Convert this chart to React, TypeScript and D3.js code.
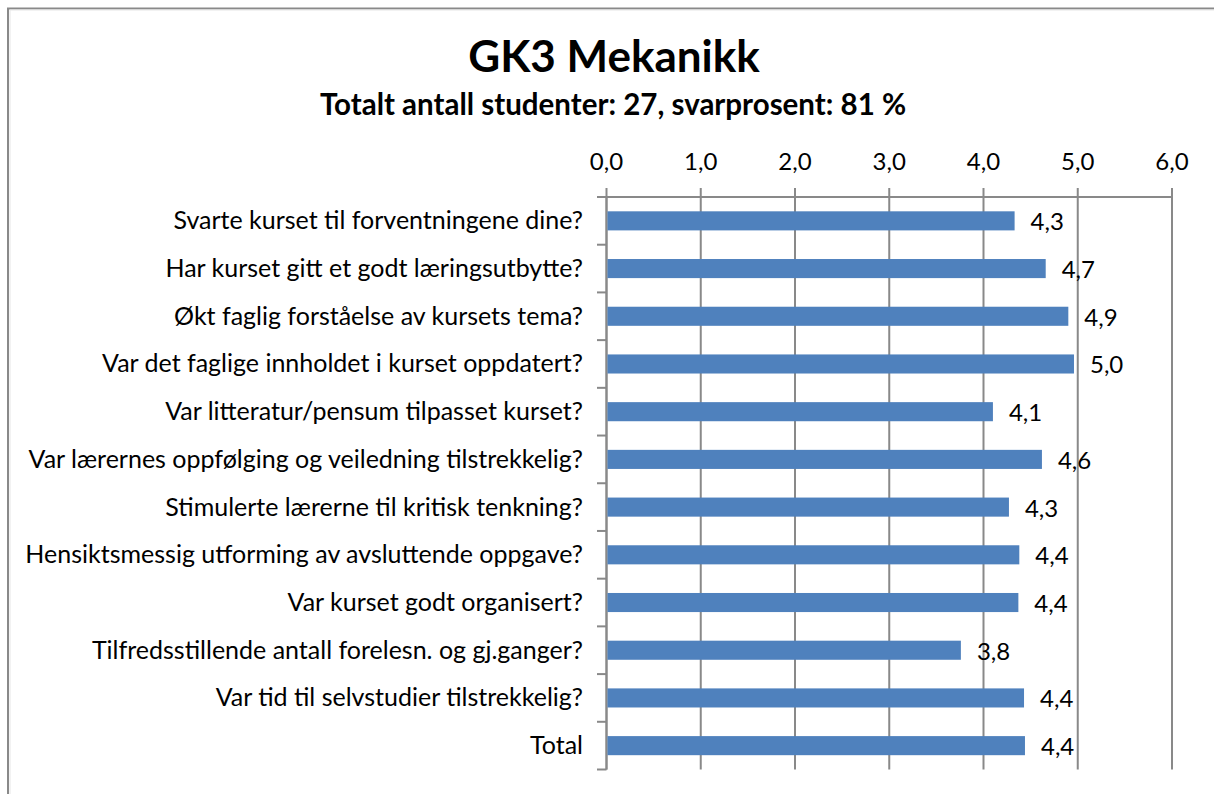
import React from "react";
import * as d3 from "d3";

const categories = [
  "Svarte kurset til forventningene dine?",
  "Har kurset gitt et godt læringsutbytte?",
  "Økt faglig forståelse av kursets tema?",
  "Var det faglige innholdet i kurset oppdatert?",
  "Var litteratur/pensum tilpasset kurset?",
  "Var lærernes oppfølging og veiledning tilstrekkelig?",
  "Stimulerte lærerne til kritisk tenkning?",
  "Hensiktsmessig utforming av avsluttende oppgave?",
  "Var kurset godt organisert?",
  "Tilfredsstillende antall forelesn. og gj.ganger?",
  "Var tid til selvstudier tilstrekkelig?",
  "Total",
];
const values = [4.33, 4.66, 4.9, 4.96, 4.1, 4.62, 4.27, 4.38, 4.37, 3.76, 4.43, 4.44];
const xTicks = [0, 1, 2, 3, 4, 5, 6];
const title = "GK3 Mekanikk";
const subtitle = "Totalt antall studenter: 27, svarprosent: 81 %";

const W = 1214;
const H = 794;
const FONT = "Lato, 'Open Sans', sans-serif";
const AXIS = "#898989";
const BAR = "#4f81bd";

const fmt = (v: number) => v.toFixed(1).replace(".", ",");

export default function App() {
  const x = d3.scaleLinear().domain([0, 6]).range([606.5, 1172]);
  const y = d3
    .scaleBand<string>()
    .domain(categories)
    .range([197, 769.5])
    .paddingInner(0.6)
    .paddingOuter(0.3);
  const step = y.step();
  const top = 197;
  const bottom = 769.5;
  const boundaries = d3.range(categories.length + 1).map((i) => top + i * step);

  return (
    <svg
      width={W}
      height={H}
      style={{ position: "absolute", left: 0, top: 0, background: "#fff" }}
      fontFamily={FONT}
    >
      <rect x={0} y={0} width={W} height={H} fill="#fff" />
      {/* chart frame (cropped on right/bottom) */}
      <rect x={8} y={8.5} width={W + 20} height={H + 20} fill="none" stroke={AXIS} strokeWidth={2} />
      <line x1={10} y1={10} x2={W} y2={10} stroke="#e6e6e6" strokeWidth={1} />
      <line x1={10} y1={10} x2={10} y2={H} stroke="#e6e6e6" strokeWidth={1} />

      <text x={614} y={72} textAnchor="middle" fontSize={44} fontWeight={700} fill="#000">
        {title}
      </text>
      <text x={613} y={115} textAnchor="middle" fontSize={29.5} fontWeight={700} fill="#000">
        {subtitle}
      </text>

      {/* gridlines + top ticks */}
      {xTicks.map((t) => (
        <g key={t}>
          <line x1={x(t)} x2={x(t)} y1={188} y2={bottom} stroke={AXIS} strokeWidth={2} />
          <text x={x(t)} y={170} textAnchor="middle" fontSize={24} fill="#000">
            {fmt(t)}
          </text>
        </g>
      ))}
      {/* top axis line */}
      <line x1={x(0)} x2={x(6)} y1={top} y2={top} stroke={AXIS} strokeWidth={2} />
      {/* left axis + ticks */}
      <line x1={x(0)} x2={x(0)} y1={top} y2={bottom} stroke={AXIS} strokeWidth={2} />
      {boundaries.map((b, i) => (
        <line key={i} x1={597} x2={x(0)} y1={b} y2={b} stroke={AXIS} strokeWidth={2} />
      ))}

      {/* bars */}
      {categories.map((c, i) => (
        <rect
          key={c}
          x={x(0) + 1}
          y={y(c)!}
          width={x(values[i]) - x(0) - 1}
          height={y.bandwidth()}
          fill={BAR}
        />
      ))}
      {/* data labels */}
      {categories.map((c, i) => (
        <text
          key={c + "l"}
          x={x(values[i]) + 16}
          y={y(c)! + y.bandwidth() / 2 + 9.5}
          fontSize={24}
          fill="#000"
        >
          {fmt(values[i])}
        </text>
      ))}
      {/* category labels */}
      {categories.map((c) => (
        <text
          key={c + "c"}
          x={583}
          y={y(c)! + y.bandwidth() / 2 + 8.5}
          textAnchor="end"
          fontSize={25}
          fill="#000"
        >
          {c}
        </text>
      ))}
    </svg>
  );
}
